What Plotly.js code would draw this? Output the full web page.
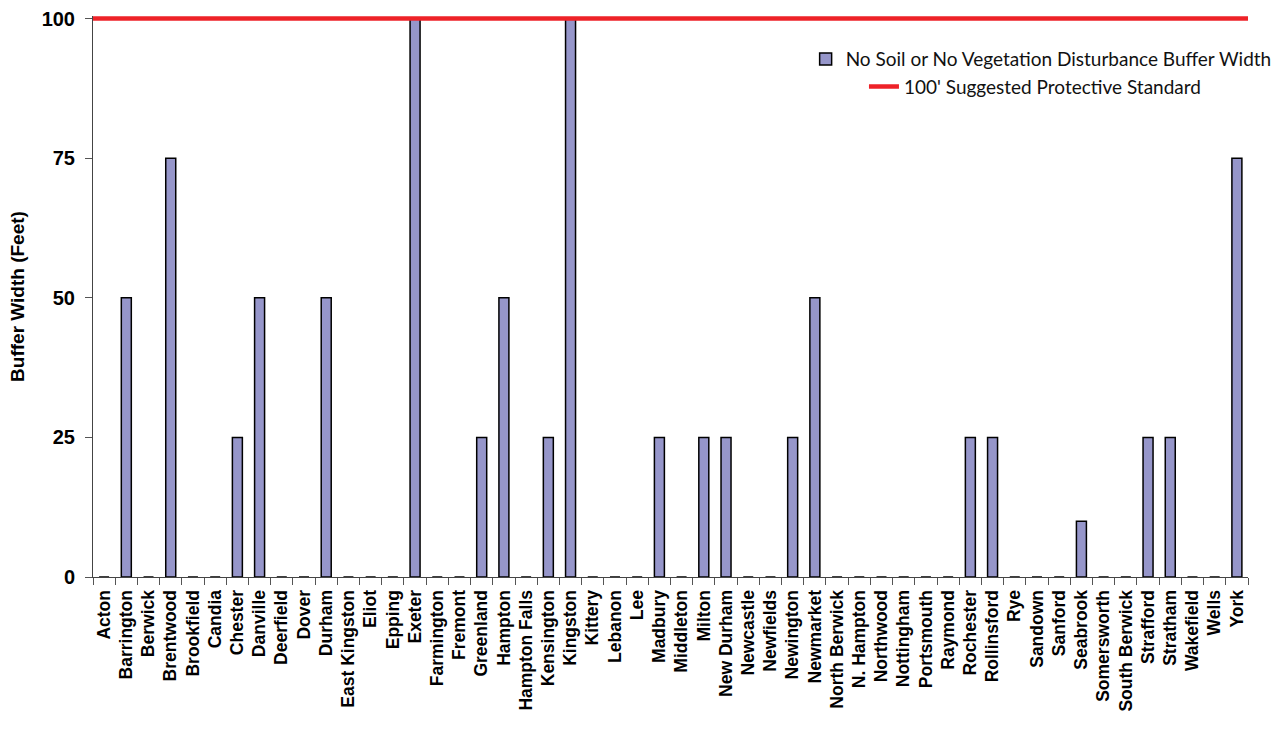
<!DOCTYPE html>
<html>
<head>
<meta charset="utf-8">
<script src="https://cdn.plot.ly/plotly-3.0.1.min.js"></script>
<style>html,body{margin:0;padding:0;background:#fff;}#chart{width:1276px;height:738px;}</style>
</head>
<body>
<div id="chart"></div>
<script>
const towns = ["Acton","Barrington","Berwick","Brentwood","Brookfield","Candia","Chester","Danville","Deerfield","Dover","Durham","East Kingston","Eliot","Epping","Exeter","Farmington","Fremont","Greenland","Hampton","Hampton Falls","Kensington","Kingston","Kittery","Lebanon","Lee","Madbury","Middleton","Milton","New Durham","Newcastle","Newfields","Newington","Newmarket","North Berwick","N. Hampton","Northwood","Nottingham","Portsmouth","Raymond","Rochester","Rollinsford","Rye","Sandown","Sanford","Seabrook","Somersworth","South Berwick","Strafford","Stratham","Wakefield","Wells","York"];
const bufferWidth = [0,50,0,75,0,0,25,50,0,0,50,0,0,0,100,0,0,25,50,0,25,100,0,0,0,25,0,25,25,0,0,25,50,0,0,0,0,0,0,25,25,0,0,0,10,0,0,25,25,0,0,75];
const standardValue = 100;
const yTicks = [0,25,50,75,100];

const traces = [
  {
    type: 'bar', x: towns, y: bufferWidth,
    name: 'No Soil or No Vegetation Disturbance Buffer Width',
    marker: {color: '#9696CA', line: {color: '#000', width: 1.5}},
    legend: 'legend', hoverinfo: 'x+y'
  }
];

const layout = {
  width: 1276, height: 738,
  margin: {l: 93, r: 28, t: 15.5, b: 161, autoexpand: false},
  paper_bgcolor: '#fff', plot_bgcolor: '#fff',
  showlegend: true,
  bargap: 0.55,
  xaxis: {
    type: 'category', range: [-0.5, towns.length - 0.5],
    tickangle: -90, tickson: 'boundaries', ticks: 'outside', ticklen: 7, tickcolor: '#555',
    ticklabelstandoff: 5,
    showline: true, linecolor: '#444', linewidth: 1, showgrid: false, zeroline: false,
    tickfont: {family: 'Arial, Liberation Sans, sans-serif', size: 17.5, color: '#000', weight: 'bold'},
    automargin: false
  },
  yaxis: {
    range: [0, 100.45], tickvals: yTicks, ticktext: yTicks.map(String),
    ticks: 'outside', ticklen: 7, tickcolor: '#555', ticklabelstandoff: 6,
    showline: true, linecolor: '#444', linewidth: 1, showgrid: false, zeroline: false,
    tickfont: {family: 'Arial, Liberation Sans, sans-serif', size: 20, color: '#000', weight: 'bold'},
    title: {text: 'Buffer Width (Feet)', standoff: 11,
      font: {family: 'Arial, Liberation Sans, sans-serif', size: 19, color: '#000', weight: 'bold'}},
    automargin: false
  },
  shapes: [{
    type: 'line', xref: 'paper', x0: 0, x1: 1, yref: 'y', y0: standardValue, y1: standardValue,
    line: {color: '#EE2228', width: 4.5}, layer: 'above',
    showlegend: true, name: "100' Suggested Protective Standard", legend: 'legend2'
  }],
  legend: {
    x: 0.617, xanchor: 'left', y: 0.923, yanchor: 'middle',
    bgcolor: 'rgba(0,0,0,0)', borderwidth: 0,
    font: {family: 'Lato, Open Sans, sans-serif', size: 19, color: '#111'}
  },
  legend2: {
    x: 0.6675, xanchor: 'left', y: 0.874, yanchor: 'middle',
    bgcolor: 'rgba(0,0,0,0)', borderwidth: 0,
    font: {family: 'Lato, Open Sans, sans-serif', size: 19, color: '#111'}
  }
};

Plotly.newPlot('chart', traces, layout, {displayModeBar: false, staticPlot: true});
</script>
</body>
</html>
